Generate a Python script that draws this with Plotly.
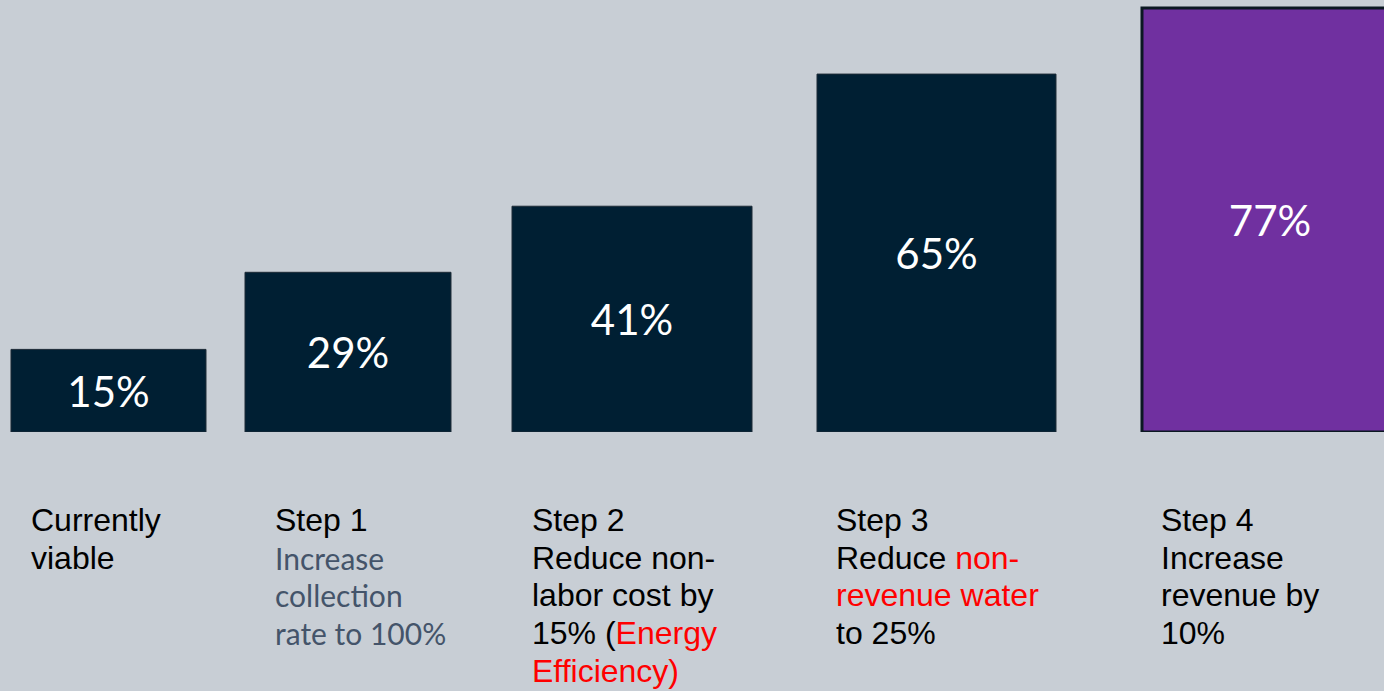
import plotly.graph_objects as go

# ---- data ----
categories = ["Currently viable", "Step 1", "Step 2", "Step 3", "Step 4"]
viability_pct = [15, 29, 41, 65, 77]
value_labels = ["15%", "29%", "41%", "65%", "77%"]

# label lines under each bar: list of (text, colour-key) segments per line
label_lines = [
    [[("Currently", "k")], [("viable", "k")]],
    [[("Step 1", "k")], [("Increase", "g")], [("collection", "g")], [("rate to 100%", "g")]],
    [[("Step 2", "k")], [("Reduce non-", "k")], [("labor cost by", "k")],
     [("15% (", "k"), ("Energy", "r")], [("Efficiency)", "r")]],
    [[("Step 3", "k")], [("Reduce ", "k"), ("non-", "r")], [("revenue water", "r")], [("to 25%", "k")]],
    [[("Step 4", "k")], [("Increase", "k")], [("revenue by", "k")], [("10%", "k")]],
]

# ---- style / layout constants ----
W, H = 1384, 691
BG = "#C8CED5"
bar_colors = ["#001F33", "#001F33", "#001F33", "#001F33", "#7030A0"]
line_colors = ["#1c2a36", "#1c2a36", "#1c2a36", "#1c2a36", "#0b1822"]
line_widths = [1, 1, 1, 1, 3]
bar_offsets = [-0.4603, -0.6149, -0.6503, -0.5484, -0.3743]
bar_widths = [0.7045, 0.7442, 0.8671, 0.8634, 0.9249]
baseline_px = 432
top_px = 8
label_x_px = [29, 273, 530, 834, 1159]
line_y_px = [520, 557.5, 595, 633, 671]
seg_colors = {"k": "#000000", "g": "#44546A", "r": "#FF0000"}
seg_fonts = {"k": "Liberation Sans, Arial, sans-serif", "g": "Lato, sans-serif",
             "r": "Liberation Sans, Arial, sans-serif"}
seg_sizes = {"k": 32, "g": 30, "r": 32}

fig = go.Figure()
fig.add_trace(go.Bar(
    x=categories,
    y=viability_pct,
    text=value_labels,
    textposition="inside",
    insidetextanchor="middle",
    textfont=dict(family="Lato, sans-serif", size=42, color="white"),
    marker=dict(color=bar_colors, line=dict(color=line_colors, width=line_widths)),
    offset=bar_offsets,
    width=bar_widths,
    hoverinfo="skip",
    cliponaxis=True,
))

ymax = viability_pct[-1] * baseline_px / (baseline_px - top_px)
fig.update_layout(
    width=W, height=H,
    paper_bgcolor=BG, plot_bgcolor=BG,
    margin=dict(l=0, r=0, t=0, b=0),
    showlegend=False,
    xaxis=dict(type="category", range=[-0.5, 4.5], visible=False, fixedrange=True),
    yaxis=dict(range=[0, ymax], domain=[1 - baseline_px / H, 1], visible=False, fixedrange=True),
)

for xi, lines in zip(label_x_px, label_lines):
    for li, segs in enumerate(lines):
        kind = segs[0][1]
        html = "".join(
            f"<span style='color:{seg_colors[k]}'>{t}</span>" for t, k in segs
        )
        fig.add_annotation(
            x=xi / W, y=1 - line_y_px[li] / H, xref="paper", yref="paper",
            xanchor="left", yanchor="middle", showarrow=False,
            text=html, align="left",
            font=dict(family=seg_fonts[kind], size=seg_sizes[kind], color=seg_colors[kind]),
        )

fig.write_html(
    "out.html",
    config={"displayModeBar": False},
    post_script="document.body.style.margin='0';document.body.style.padding='0';"
                "document.body.style.background='" + BG + "';",
)
